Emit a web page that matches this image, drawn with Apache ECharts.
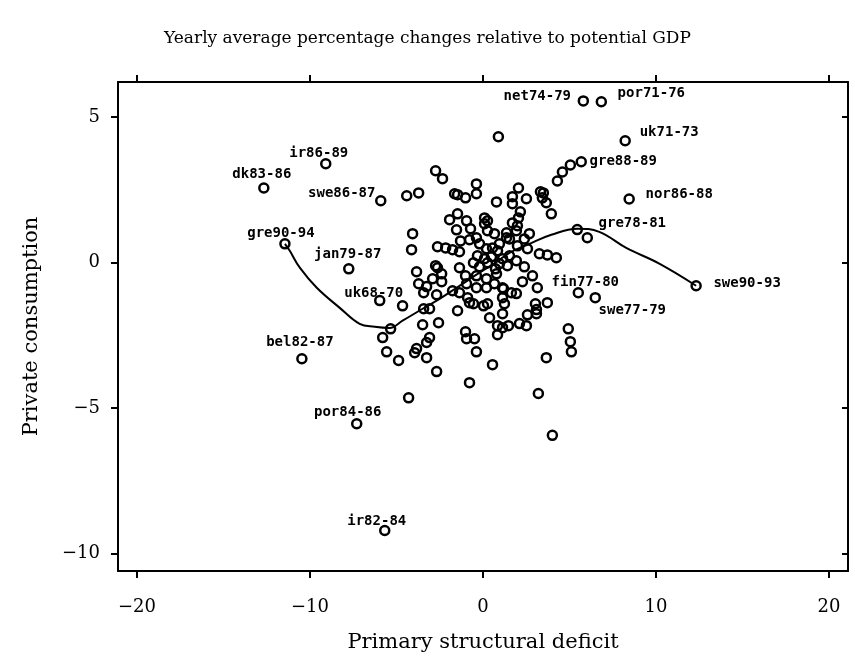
<!DOCTYPE html>
<html>
<head>
<meta charset="utf-8">
<script src="https://cdn.jsdelivr.net/npm/echarts@6/dist/echarts.min.js"></script>
<style>
  html, body { margin: 0; padding: 0; background: #fff; }
  #chart { width: 855px; height: 658px; }
</style>
</head>
<body>
<div id="chart"></div>
<script>
// tick values on both axes
const xTicks = [-20, -10, 0, 10, 20];
const yTicks = [-10, -5, 0, 5];

// labelled country-periods
const labelNames = ["net74-79", "por71-76", "uk71-73", "gre88-89", "nor86-88", "gre78-81", "swe90-93",
    "fin77-80", "swe77-79", "uk68-70", "jan79-87", "gre90-94", "swe86-87", "ir86-89", "dk83-86",
    "bel82-87", "por84-86", "ir82-84"];
const labelX = [5.80, 6.84, 8.22, 5.68, 8.45, 5.45, 12.32, 5.51, 6.49, -5.97, -7.76, -11.45, -5.91, -9.09, -12.67, -10.47, -7.30, -5.68];
const labelY = [5.55, 5.52, 4.18, 3.46, 2.18, 1.13, -0.80, -1.04, -1.21, -1.31, -0.22, 0.64, 2.12, 3.39, 2.56, -3.31, -5.54, -9.21];

// all other observations [deficit, consumption]
const points = [
    [-2.74, 3.15], [-2.34, 2.88], [-4.41, 2.29], [-3.72, 2.39], [-1.64, 2.36], [-1.47, 2.33], [-1.01, 2.22],
    [-0.38, 2.70], [-0.38, 2.36], [-4.07, 0.99], [-4.13, 0.44], [-2.63, 0.54], [-2.16, 0.50], [-1.76, 0.44],
    [-1.36, 0.37], [-1.47, 1.67], [-1.93, 1.47], [-0.95, 1.43], [-1.53, 1.12], [-0.72, 1.16], [0.09, 1.53],
    [0.09, 1.33], [0.26, 1.09], [0.66, 0.99], [-1.30, 0.74], [-0.78, 0.78], [-0.38, 0.85], [0.89, 4.32],
    [0.78, 2.08], [1.70, 2.26], [1.70, 2.02], [2.05, 2.56], [2.51, 2.19], [3.32, 2.43], [3.49, 2.39],
    [3.43, 2.22], [3.66, 2.05], [3.95, 1.67], [4.30, 2.80], [4.59, 3.11], [5.05, 3.35], [2.16, 1.74],
    [2.05, 1.53], [1.70, 1.36], [1.99, 1.26], [2.68, 0.99], [1.36, 1.02], [1.53, 0.81], [0.95, 0.64],
    [2.39, 0.81], [2.57, 0.47], [1.99, 0.57], [3.26, 0.30], [3.72, 0.26], [4.24, 0.16], [6.03, 0.85],
    [0.84, 0.40], [0.26, 1.43], [-0.20, 0.64], [0.20, 0.47], [0.55, 0.50], [1.36, 0.85], [1.93, 1.09],
    [-0.32, 0.23], [0.09, 0.13], [0.49, 0.20], [1.13, 0.13], [1.53, 0.23], [-0.55, -0.01], [-0.20, -0.15],
    [0.26, -0.01], [0.72, -0.22], [0.95, -0.04], [1.41, -0.11], [1.93, 0.06], [2.39, -0.15], [2.86, -0.46],
    [2.28, -0.66], [3.14, -0.87], [-2.63, -0.18], [-2.39, -0.39], [-1.36, -0.18], [-1.01, -0.46],
    [-0.38, -0.46], [0.20, -0.56], [0.78, -0.39], [-0.95, -0.73], [-0.38, -0.87], [0.20, -0.87],
    [0.66, -0.73], [1.13, -0.87], [1.64, -1.04], [1.93, -1.07], [1.13, -1.21], [1.24, -1.42], [0.26, -1.42],
    [0.03, -1.49], [-0.89, -1.21], [-0.55, -1.42], [-1.47, -1.66], [1.13, -1.76], [2.57, -1.80], [3.09, -1.76],
    [0.38, -1.90], [0.84, -2.17], [1.13, -2.24], [1.47, -2.17], [2.11, -2.10], [2.51, -2.17], [0.84, -2.48],
    [-1.01, -2.38], [-0.95, -2.62], [-0.49, -2.62], [-0.38, -3.07], [0.55, -3.51], [-0.78, -4.13],
    [3.03, -1.42], [3.72, -1.38], [3.09, -1.62], [4.93, -2.28], [5.05, -2.72], [5.11, -3.07], [3.66, -3.27],
    [3.20, -4.50], [4.01, -5.94], [1.18, -0.90], [-3.84, -0.32], [-2.74, -0.11], [-2.91, -0.56],
    [-2.39, -0.66], [-3.72, -0.73], [-3.26, -0.83], [-3.43, -1.04], [-2.68, -1.11], [-1.76, -0.97],
    [-1.36, -1.04], [-3.09, -1.59], [-3.43, -1.59], [-3.49, -2.14], [-2.57, -2.07], [-4.65, -1.49],
    [-5.34, -2.28], [-5.80, -2.58], [-5.57, -3.07], [-4.88, -3.37], [-3.09, -2.58], [-3.26, -2.75],
    [-3.84, -2.96], [-3.95, -3.10], [-3.26, -3.27], [-2.68, -3.75], [-4.30, -4.65], [-0.78, -1.38]
];

// smooth fitted curve
const curve = [
    [-11.45, 0.64], [-11.17, 0.40], [-10.59, -0.18], [-9.61, -0.87], [-8.28, -1.56], [-7.13, -2.11],
    [-6.26, -2.21], [-5.40, -2.25], [-4.65, -2.00], [-3.49, -1.59], [-2.51, -1.25], [-1.53, -0.87],
    [-0.20, -0.35], [0.66, -0.04], [1.53, 0.33], [2.68, 0.64], [3.95, 0.95], [5.45, 1.16], [6.72, 1.05],
    [8.28, 0.50], [10.19, -0.04], [12.32, -0.80]
];

// label placement (pixel offset of text centre from the point)
const labelOffset = {
    "net74-79": [-46, -5], "por71-76": [50, -8], "uk71-73": [44, -8], "gre88-89": [42, 0],
    "nor86-88": [50, -5], "gre78-81": [55, -6], "swe90-93": [51, -2], "fin77-80": [7, -10],
    "swe77-79": [37, 13], "uk68-70": [-6, -7], "jan79-87": [-1, -15], "gre90-94": [-4, -10],
    "swe86-87": [-39, -7], "ir86-89": [-7, -10], "dk83-86": [-2, -14], "bel82-87": [-2, -16],
    "por84-86": [-9, -11], "ir82-84": [-8, -9]
};

const serif = "'DejaVu Serif', 'Liberation Serif', serif";
const minus = v => String(v).replace('-', '\u2212');
const circle = { color: 'rgba(0,0,0,0)', borderColor: '#000', borderWidth: 2.5, opacity: 1 };

const labelled = labelNames.map((n, i) => ({
    name: n,
    value: [labelX[i], labelY[i]],
    label: { offset: labelOffset[n] }
}));

const axisBase = {
    type: 'value',
    axisLine: { show: true, onZero: false, lineStyle: { color: '#000', width: 2 } },
    splitLine: { show: false }
};

const chart = echarts.init(document.getElementById('chart'), null, { renderer: 'canvas' });
chart.setOption({
    animation: false,
    backgroundColor: '#fff',
    title: {
        text: 'Yearly average percentage changes relative to potential GDP',
        left: 'center', top: 25,
        textStyle: { fontFamily: serif, fontSize: 17, fontWeight: 'normal', color: '#000' }
    },
    grid: { left: 118, right: 7, top: 82, bottom: 87 },
    xAxis: [
        Object.assign({}, axisBase, {
            position: 'bottom', min: -21.1, max: 21.1,
            name: 'Primary structural deficit', nameLocation: 'middle', nameGap: 61,
            nameTextStyle: { fontFamily: serif, fontSize: 21, color: '#000' },
            axisTick: { show: true, customValues: xTicks, length: 7, lineStyle: { color: '#000', width: 2 } },
            axisLabel: { customValues: xTicks, formatter: minus, margin: 27, fontFamily: serif, fontSize: 18, color: '#000' }
        }),
        Object.assign({}, axisBase, {
            position: 'top', min: -21.1, max: 21.1,
            axisTick: { show: true, customValues: xTicks, length: 7, lineStyle: { color: '#000', width: 2 } },
            axisLabel: { show: false }
        })
    ],
    yAxis: [
        Object.assign({}, axisBase, {
            position: 'left', min: -10.6, max: 6.2,
            name: 'Private consumption', nameLocation: 'middle', nameGap: 76,
            nameTextStyle: { fontFamily: serif, fontSize: 21, color: '#000' },
            axisTick: { show: true, customValues: yTicks, length: 7, lineStyle: { color: '#000', width: 2 } },
            axisLabel: { customValues: yTicks, formatter: minus, margin: 18, fontFamily: serif, fontSize: 18, color: '#000' }
        }),
        Object.assign({}, axisBase, {
            position: 'right', min: -10.6, max: 6.2,
            axisTick: { show: true, inside: true, customValues: yTicks, length: 6, lineStyle: { color: '#000', width: 2 } },
            axisLabel: { show: false }
        })
    ],
    series: [
        {
            name: 'fit', type: 'line', data: curve, smooth: 0.4, showSymbol: false, silent: true,
            lineStyle: { color: '#000', width: 2 }, z: 1
        },
        {
            name: 'obs', type: 'scatter', data: points, symbol: 'circle', symbolSize: 9,
            itemStyle: circle, silent: true, z: 2
        },
        {
            name: 'labelled', type: 'scatter', data: labelled, symbol: 'circle', symbolSize: 9,
            itemStyle: circle, silent: true, z: 3,
            label: {
                show: true, position: 'inside', formatter: p => p.name,
                fontFamily: "'DejaVu Sans Mono', monospace", fontWeight: 'bold', fontSize: 14, color: '#000'
            }
        }
    ]
});
</script>
</body>
</html>
